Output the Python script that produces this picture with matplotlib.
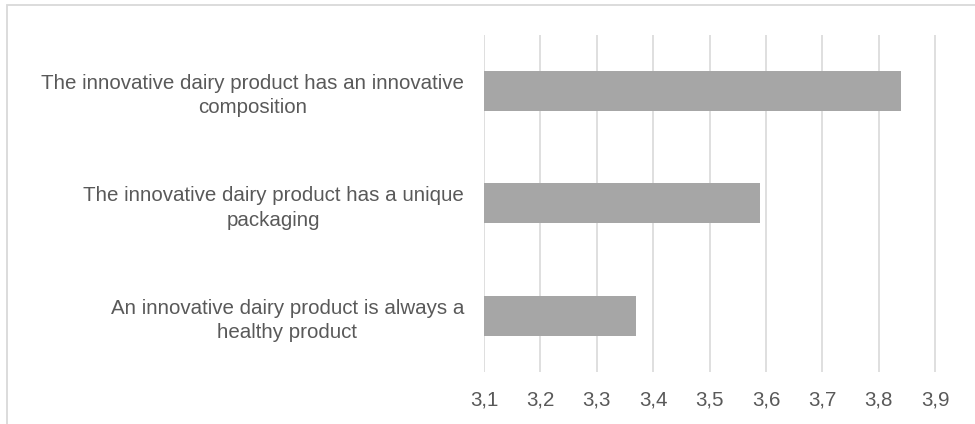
import matplotlib.pyplot as plt
from matplotlib.patches import Rectangle
from matplotlib.ticker import FuncFormatter

plt.rcParams['font.family'] = ['Liberation Sans', 'DejaVu Sans']

# statements, bottom to top as they appear on the chart
statements = [
    "An innovative dairy product is always a\nhealthy product",
    "The innovative dairy product has a unique\npackaging",
    "The innovative dairy product has an innovative\ncomposition",
]
mean_scores = [3.37, 3.59, 3.84]
axis_min, axis_max = 3.1, 3.9
tick_values = [3.1, 3.2, 3.3, 3.4, 3.5, 3.6, 3.7, 3.8, 3.9]

text_color = '#595959'
grid_color = '#d9d9d9'
bar_color = '#a6a6a6'

fig = plt.figure(figsize=(9.75, 4.24), dpi=100)
ax = fig.add_axes([0.4959, 0.1226, 0.4638, 0.7955])

# chart area border (runs off the right and bottom edges)
fig.patches.append(Rectangle((7 / 975, -0.05), 1.05, 1 - 4.5 / 424 + 0.05,
                             transform=fig.transFigure, fill=False,
                             edgecolor=grid_color, linewidth=1.3))

positions = range(len(statements))
ax.barh(positions, [v - axis_min for v in mean_scores], left=axis_min,
        height=0.355, color=bar_color, zorder=2)

ax.set_xlim(axis_min - 0.001, axis_max + 0.001)
ax.set_ylim(-0.5, len(statements) - 0.5)
ax.set_xticks(tick_values)
ax.xaxis.set_major_formatter(FuncFormatter(lambda v, p: f"{v:.1f}".replace('.', ',')))
ax.grid(axis='x', color=grid_color, linewidth=1.2, zorder=0)

ax.set_yticks(list(positions))
ax.set_yticklabels(statements, multialignment='center', linespacing=1.35)

ax.tick_params(axis='both', length=0, colors=text_color, labelsize=14.8)
ax.tick_params(axis='x', pad=13)
ax.tick_params(axis='y', pad=14)
for spine in ax.spines.values():
    spine.set_visible(False)

fig.savefig('out.png', dpi=100)
